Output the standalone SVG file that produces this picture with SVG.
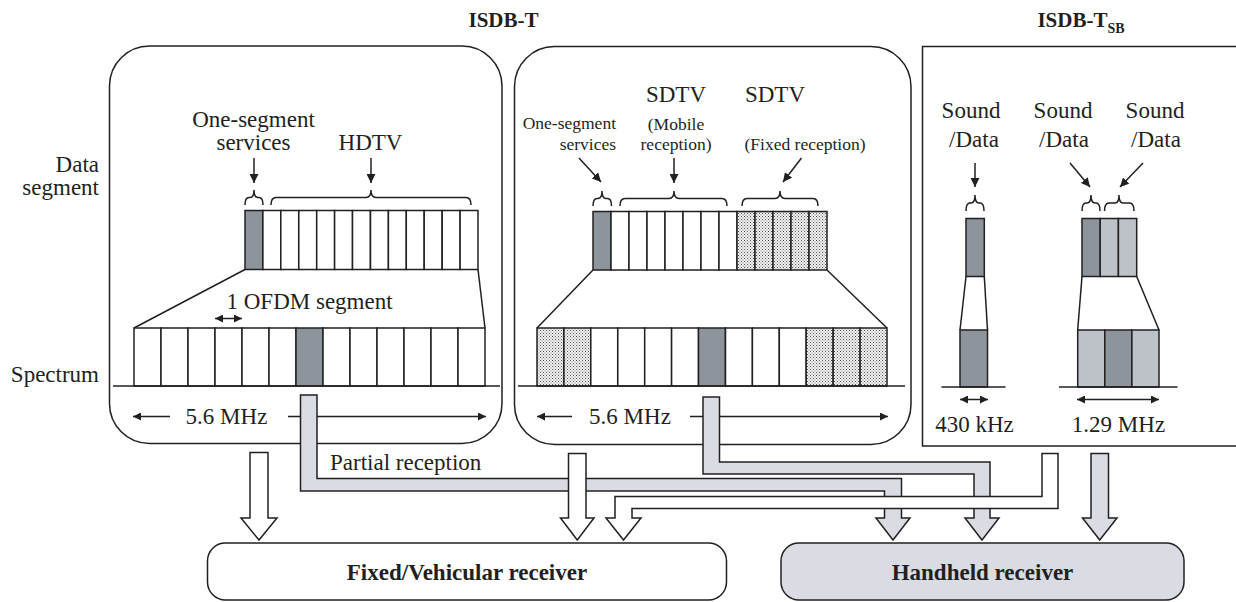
<svg xmlns="http://www.w3.org/2000/svg" width="1236" height="602" viewBox="0 0 1236 602">
<style>
.ln{stroke:#231f20;stroke-width:1.5;fill:none}
.sg{stroke:#231f20;stroke-width:1.5;fill:#fff}
.dk{stroke:#231f20;stroke-width:1.5;fill:#8d949c}
.lt{stroke:#231f20;stroke-width:1.5;fill:#bdc1c8}
.dt{stroke:#231f20;stroke-width:1.5;fill:url(#dots)}
.pn{stroke:#231f20;stroke-width:1.5;fill:#fff}
.t{font-family:"Liberation Serif","Times New Roman",serif;font-size:23px;fill:#231f20}
.ts{font-size:17.5px}
.tb{font-weight:bold;font-size:21px}
.rb{font-weight:bold;font-size:23px}
.cg{fill:#d9dce3;stroke:#231f20;stroke-width:1.5;stroke-linejoin:miter}
.cw{fill:#fff;stroke:#231f20;stroke-width:1.5;stroke-linejoin:miter}
.ar{stroke:#231f20;stroke-width:1.5;fill:none;marker-end:url(#ah)}
.da{stroke:#231f20;stroke-width:1.5;fill:none;marker-start:url(#ah2);marker-end:url(#ah2)}
.de{stroke:#231f20;stroke-width:1.5;fill:none;marker-end:url(#ah2)}
</style>
<defs>
<pattern id="dots" patternUnits="userSpaceOnUse" width="3" height="3">
<rect width="3" height="3" fill="#f2f2f2"/>
<rect x="0" y="0" width="1" height="1" fill="#555"/>
<rect x="1.5" y="1.5" width="1" height="1" fill="#777"/>
</pattern>
<marker id="ah" viewBox="0 0 10 10" refX="10" refY="5" markerWidth="9" markerHeight="9" markerUnits="userSpaceOnUse" orient="auto-start-reverse">
<path d="M0,0 L10,5 L0,10 z" fill="#231f20"/>
</marker>
<marker id="ah2" viewBox="0 0 10 10" refX="10" refY="5" markerWidth="11" markerHeight="8" markerUnits="userSpaceOnUse" orient="auto-start-reverse">
<path d="M0,0 L10,5 L0,10 z" fill="#231f20"/>
</marker>
</defs>
<rect width="1236" height="602" fill="#fff"/>

<g id="titles">
<text class="t tb" x="503.5" y="27" text-anchor="middle">ISDB-T</text>
<text class="t tb" x="1081" y="27" text-anchor="middle">ISDB-T<tspan font-size="14" dy="6">SB</tspan></text>
</g>

<g id="row-labels">
<text class="t" x="99" y="172" text-anchor="end">Data</text>
<text class="t" x="99" y="195" text-anchor="end">segment</text>
<text class="t" x="99" y="382" text-anchor="end">Spectrum</text>
</g>

<g id="panel-isdbt-13">
<rect class="pn" x="109.5" y="46" width="392.5" height="397.5" rx="40"/>
<text class="t" x="253.5" y="127" text-anchor="middle">One-segment</text>
<text class="t" x="253.5" y="150" text-anchor="middle">services</text>
<text class="t" x="370.5" y="150" text-anchor="middle">HDTV</text>
<line class="ar" x1="254" y1="158" x2="254" y2="183"/>
<line class="ar" x1="371" y1="158" x2="371" y2="183"/>
<path class="ln" d="M245 205 Q245 197.5 249 197.5 H250 Q254 197.5 254 190 Q254 197.5 258 197.5 H259 Q263 197.5 263 205"/>
<path class="ln" d="M271 205 Q271 197.5 276 197.5 H366 Q371 197.5 371 190 Q371 197.5 376 197.5 H466 Q471 197.5 471 205"/>
<g>
<rect class="dk" x="245" y="210.5" width="17.9" height="59"/>
<rect class="sg" x="262.9" y="210.5" width="17.9" height="59"/>
<rect class="sg" x="280.8" y="210.5" width="17.9" height="59"/>
<rect class="sg" x="298.8" y="210.5" width="17.9" height="59"/>
<rect class="sg" x="316.7" y="210.5" width="17.9" height="59"/>
<rect class="sg" x="334.6" y="210.5" width="17.9" height="59"/>
<rect class="sg" x="352.5" y="210.5" width="17.9" height="59"/>
<rect class="sg" x="370.5" y="210.5" width="17.9" height="59"/>
<rect class="sg" x="388.4" y="210.5" width="17.9" height="59"/>
<rect class="sg" x="406.3" y="210.5" width="17.9" height="59"/>
<rect class="sg" x="424.2" y="210.5" width="17.9" height="59"/>
<rect class="sg" x="442.2" y="210.5" width="17.9" height="59"/>
<rect class="sg" x="460.1" y="210.5" width="17.9" height="59"/>
</g>
<line class="ln" x1="245" y1="269.5" x2="134" y2="328"/>
<line class="ln" x1="478" y1="269.5" x2="485" y2="328"/>
<text class="t" x="226.5" y="309">1 OFDM segment</text>
<line class="da" x1="215" y1="318.5" x2="242" y2="318.5"/>
<g>
<rect class="sg" x="134" y="328" width="27" height="58"/>
<rect class="sg" x="161" y="328" width="27" height="58"/>
<rect class="sg" x="188" y="328" width="27" height="58"/>
<rect class="sg" x="215" y="328" width="27" height="58"/>
<rect class="sg" x="242" y="328" width="27" height="58"/>
<rect class="sg" x="269" y="328" width="27" height="58"/>
<rect class="dk" x="296" y="328" width="27" height="58"/>
<rect class="sg" x="323" y="328" width="27" height="58"/>
<rect class="sg" x="350" y="328" width="27" height="58"/>
<rect class="sg" x="377" y="328" width="27" height="58"/>
<rect class="sg" x="404" y="328" width="27" height="58"/>
<rect class="sg" x="431" y="328" width="27" height="58"/>
<rect class="sg" x="458" y="328" width="27" height="58"/>
</g>
<line class="ln" x1="113" y1="386" x2="500" y2="386"/>
<line class="de" x1="170" y1="416.5" x2="133" y2="416.5"/>
<line class="de" x1="288" y1="416.5" x2="486" y2="416.5"/>
<text class="t" x="226.5" y="424" text-anchor="middle">5.6 MHz</text>
</g>

<g id="panel-isdbt-hier">
<rect class="pn" x="514.5" y="46.5" width="396.5" height="398" rx="40"/>
<text class="t" x="676" y="102" text-anchor="middle">SDTV</text>
<text class="t" x="775" y="102" text-anchor="middle">SDTV</text>
<text class="t ts" x="616" y="129" text-anchor="end">One-segment</text>
<text class="t ts" x="616" y="150" text-anchor="end">services</text>
<text class="t ts" x="676" y="130" text-anchor="middle">(Mobile</text>
<text class="t ts" x="676" y="150" text-anchor="middle">reception)</text>
<text class="t ts" x="805" y="150" text-anchor="middle">(Fixed reception)</text>
<line class="ar" x1="579" y1="158" x2="601" y2="182"/>
<line class="ar" x1="674" y1="158" x2="674" y2="183"/>
<line class="ar" x1="801.5" y1="158" x2="783" y2="182"/>
<path class="ln" d="M593 206 Q593 198.5 597 198.5 H598 Q602 198.5 602 191 Q602 198.5 606 198.5 H607.5 Q611.5 198.5 611.5 206"/>
<path class="ln" d="M620 206 Q620 198.5 625 198.5 H669 Q674 198.5 674 191 Q674 198.5 679 198.5 H722 Q727 198.5 727 206"/>
<path class="ln" d="M742 206 Q742 198.5 747 198.5 H775 Q780 198.5 780 191 Q780 198.5 785 198.5 H813 Q818 198.5 818 206"/>
<g>
<rect class="dk" x="593" y="211.5" width="18" height="58.5"/>
<rect class="sg" x="611" y="211.5" width="18" height="58.5"/>
<rect class="sg" x="629" y="211.5" width="18" height="58.5"/>
<rect class="sg" x="647" y="211.5" width="18" height="58.5"/>
<rect class="sg" x="665" y="211.5" width="18" height="58.5"/>
<rect class="sg" x="683" y="211.5" width="18" height="58.5"/>
<rect class="sg" x="701" y="211.5" width="18" height="58.5"/>
<rect class="sg" x="719" y="211.5" width="18" height="58.5"/>
<rect class="dt" x="737" y="211.5" width="18" height="58.5"/>
<rect class="dt" x="755" y="211.5" width="18" height="58.5"/>
<rect class="dt" x="773" y="211.5" width="18" height="58.5"/>
<rect class="dt" x="791" y="211.5" width="18" height="58.5"/>
<rect class="dt" x="809" y="211.5" width="18" height="58.5"/>
</g>
<line class="ln" x1="593" y1="270" x2="537" y2="328"/>
<line class="ln" x1="827" y1="270" x2="887" y2="328"/>
<g>
<rect class="dt" x="537" y="328" width="26.9" height="58"/>
<rect class="dt" x="563.9" y="328" width="26.9" height="58"/>
<rect class="sg" x="590.8" y="328" width="26.9" height="58"/>
<rect class="sg" x="617.8" y="328" width="26.9" height="58"/>
<rect class="sg" x="644.7" y="328" width="26.9" height="58"/>
<rect class="sg" x="671.6" y="328" width="26.9" height="58"/>
<rect class="dk" x="698.5" y="328" width="26.9" height="58"/>
<rect class="sg" x="725.5" y="328" width="26.9" height="58"/>
<rect class="sg" x="752.4" y="328" width="26.9" height="58"/>
<rect class="sg" x="779.3" y="328" width="26.9" height="58"/>
<rect class="dt" x="806.2" y="328" width="26.9" height="58"/>
<rect class="dt" x="833.2" y="328" width="26.9" height="58"/>
<rect class="dt" x="860.1" y="328" width="26.9" height="58"/>
</g>
<line class="ln" x1="518" y1="386" x2="905" y2="386"/>
<line class="de" x1="572" y1="416.5" x2="537" y2="416.5"/>
<line class="de" x1="690" y1="416.5" x2="888" y2="416.5"/>
<text class="t" x="630" y="424" text-anchor="middle">5.6 MHz</text>
</g>

<g id="panel-isdbtsb">
<path class="pn" d="M1240 46.5 H922.5 V446 H1240"/>
<text class="t" x="971" y="118" text-anchor="middle">Sound</text>
<text class="t" x="974" y="147" text-anchor="middle">/Data</text>
<text class="t" x="1063" y="118" text-anchor="middle">Sound</text>
<text class="t" x="1064" y="147" text-anchor="middle">/Data</text>
<text class="t" x="1155" y="118" text-anchor="middle">Sound</text>
<text class="t" x="1156" y="147" text-anchor="middle">/Data</text>
<line class="ar" x1="975" y1="163" x2="975" y2="187"/>
<line class="ar" x1="1070" y1="163" x2="1090" y2="187"/>
<line class="ar" x1="1143" y1="163" x2="1120" y2="187"/>
<path class="ln" d="M966 211 Q966 203 970 203 H971 Q975 203 975 195 Q975 203 979 203 H980 Q984 203 984 211"/>
<path class="ln" d="M1082 211 Q1082 203 1086 203 H1087 Q1091 203 1091 195 Q1091 203 1095 203 H1096 Q1100 203 1100 211"/>
<path class="ln" d="M1104.5 211 Q1104.5 203 1109 203 H1115 Q1119 203 1119 195 Q1119 203 1123 203 H1129.5 Q1134 203 1134 211"/>
<rect class="dk" x="966" y="218.5" width="18.3" height="58"/>
<rect class="dk" x="1082" y="218.5" width="18.2" height="58"/>
<rect class="lt" x="1100.2" y="218.5" width="18.2" height="58"/>
<rect class="lt" x="1118.4" y="218.5" width="18.3" height="58"/>
<line class="ln" x1="966" y1="276.5" x2="960" y2="330"/>
<line class="ln" x1="984.3" y1="276.5" x2="987.5" y2="330"/>
<line class="ln" x1="1082" y1="276.5" x2="1077.7" y2="330"/>
<line class="ln" x1="1136.7" y1="276.5" x2="1159" y2="330"/>
<rect class="dk" x="960" y="330" width="27.5" height="57"/>
<rect class="lt" x="1077.7" y="330" width="27.1" height="57"/>
<rect class="dk" x="1104.8" y="330" width="27.1" height="57"/>
<rect class="lt" x="1131.9" y="330" width="27.1" height="57"/>
<line class="ln" x1="941.5" y1="387" x2="1005.5" y2="387"/>
<line class="ln" x1="1059" y1="387" x2="1177.5" y2="387"/>
<line class="da" x1="960" y1="399.5" x2="988" y2="399.5"/>
<line class="da" x1="1077" y1="399.5" x2="1159" y2="399.5"/>
<text class="t" x="974.5" y="431.5" text-anchor="middle">430 kHz</text>
<text class="t" x="1118.5" y="431.5" text-anchor="middle">1.29 MHz</text>
</g>

<g id="connectors">
<path class="cg" d="M300.5 395 H317 V478.5 H901.5 V518 H910 L893 540 L876 518 H884.5 V491 H300.5 Z"/>
<path class="cg" d="M703 397 H719.5 V462 H990 V518 H999 L982 540 L965 518 H974 V474 H703 Z"/>
<path class="cg" d="M1091 453.5 H1108.5 V518 H1117 L1099.75 540 L1082.5 518 H1091 Z"/>
<path class="cw" d="M1042 453.5 H1058 V508.5 H632 V518 H641 L623.5 540 L606 518 H615 V496.5 H1042 Z"/>
<path class="cw" d="M250 452.5 H268 V518 H277 L259 540 L241 518 H250 Z"/>
<path class="cw" d="M568.5 453.5 H586 V518 H594 L577.25 540 L560.5 518 H568.5 Z"/>
<text class="t" x="330" y="470">Partial reception</text>
</g>

<g id="fixed-receiver">
<rect x="207.5" y="543" width="519" height="57" rx="18" fill="#fff" stroke="#231f20" stroke-width="1.5"/>
<text class="t rb" x="467" y="580" text-anchor="middle">Fixed/Vehicular receiver</text>
</g>

<g id="handheld-receiver">
<rect x="781" y="543" width="403" height="57" rx="18" fill="#d9dce3" stroke="#231f20" stroke-width="1.5"/>
<text class="t rb" x="982.5" y="580" text-anchor="middle">Handheld receiver</text>
</g>
</svg>
